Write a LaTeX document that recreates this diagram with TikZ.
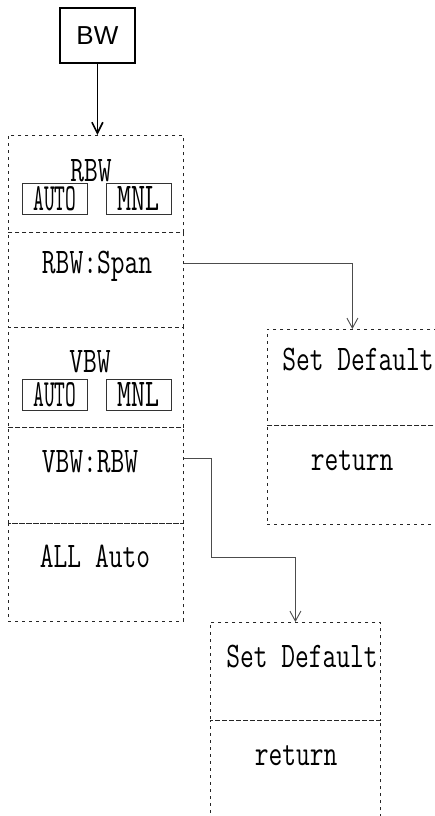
\documentclass[tikz,border=0pt]{standalone}
\usepackage{graphicx}
\usepackage{fontspec}
\newfontfamily\bwsans{Liberation Sans}
\usetikzlibrary{arrows.meta,calc}
\newcommand\mono[1]{\scalebox{0.89}[1.2]{\fontsize{30}{30}\selectfont\ttfamily #1}}
\newcommand\tallmono[2]{\resizebox{#1}{24pt}{\ttfamily #2}}
\begin{document}
\begin{tikzpicture}[x=1pt,y=-1pt,
  cell/.style={draw=black!85, dash pattern=on 3pt off 4pt, line width=0.8pt,
    rectangle, inner sep=0pt, anchor=north west, minimum width=#1},
  cell/.default=175pt,
  lbl/.style={anchor=base, inner sep=0pt},
  btn/.style={draw=black!80, line width=0.7pt, rectangle, inner sep=0pt,
    anchor=north west, minimum width=65pt, minimum height=31pt},
  conn/.style={draw=black!70, line width=0.9pt,
    -{Straight Barb[length=10pt,width=11pt]}}
]
\useasboundingbox (0,0) rectangle (435,816);
\clip (0,0) rectangle (435,816);

% BW key
\node[draw, line width=1.8pt, rectangle, anchor=north west,
  minimum width=75pt, minimum height=55pt, inner sep=0pt] (bw) at (59,7)
  {\fontsize{26}{26}\selectfont\bwsans BW};

% left menu column
\node[cell, minimum height=97pt] (c1) at (8,135) {};
\node[cell, minimum height=95pt] (c2) at (8,232) {};
\node[cell, minimum height=100pt] (c3) at (8,327) {};
\node[cell, minimum height=96pt] (c4) at (8,427) {};
\node[cell, minimum height=98pt] (c5) at (8,523) {};

\node[lbl] (trbw) at (91,181) {\mono{RBW}};
\node[btn] (ra) at (22,183) {\tallmono{43pt}{AUTO}};
\node[btn] (rm) at (106,183) {\tallmono{42pt}{MNL}};
\node[lbl] (tspan) at (97,273) {\mono{RBW:Span}};
\node[lbl] (tvbw) at (90,372) {\mono{VBW}};
\node[btn] (va) at (22,379) {\tallmono{43pt}{AUTO}};
\node[btn] (vm) at (106,379) {\tallmono{42pt}{MNL}};
\node[lbl] (tvr) at (90,472) {\mono{VBW:RBW}};
\node[lbl] (tall) at (95,567) {\mono{ALL Auto}};

% right sub-menu (RBW:Span)
\node[cell=170pt, minimum height=96pt] (sd1) at (267,329) {};
\node[cell=170pt, minimum height=99pt] (rt1) at (267,425) {};
\node[lbl] (tsd1) at (358,370) {\mono{Set Default}};
\node[lbl] (trt1) at (352,470) {\mono{return}};

% lower sub-menu (VBW:RBW)
\node[cell=170pt, minimum height=98pt] (sd3) at (210,622) {};
\node[cell=170pt, minimum height=130pt] (rt3) at (210,720) {};
\node[lbl] (tsd3) at (302,667) {\mono{Set Default}};
\node[lbl] (trt3) at (296,765) {\mono{return}};

% connectors
\draw[line width=1.6pt, -{Straight Barb[length=11pt,width=11pt]}]
  (bw.south) -- (bw.south |- c1.north);
\draw[conn] ($(c2.north east)!0.325!(c2.south east)$) -| (sd1.north);
\coordinate (k1) at (211,557);
\draw[conn] ($(c4.north east)!0.32!(c4.south east)$) -| (k1) -| (sd3.north);
\end{tikzpicture}
\end{document}
